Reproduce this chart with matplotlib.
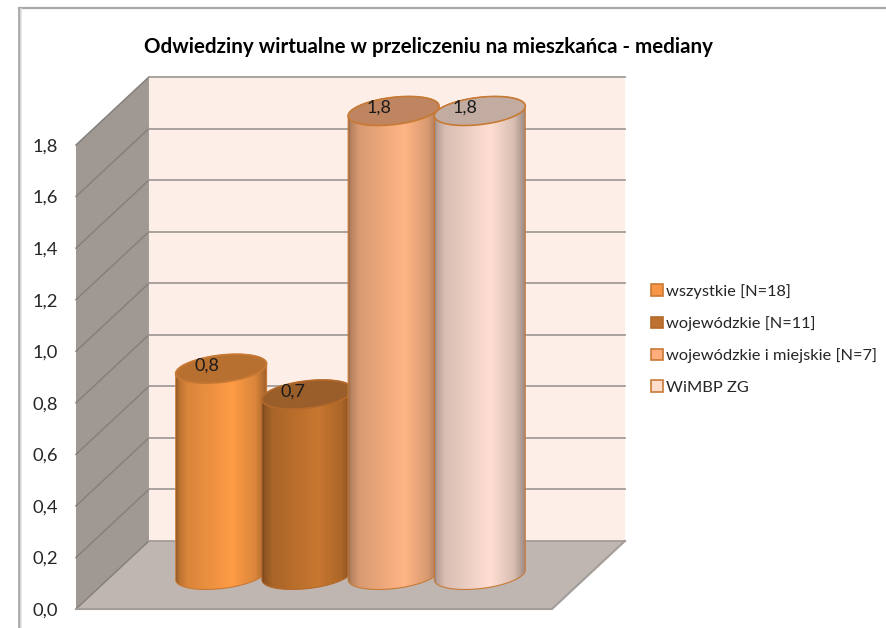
import numpy as np
import matplotlib
matplotlib.use("Agg")
import matplotlib.pyplot as plt
from matplotlib.patches import Polygon, Patch
from matplotlib.lines import Line2D
from matplotlib.colors import to_rgb

# data
title = "Odwiedziny wirtualne w przeliczeniu na mieszkańca - mediany"
series = ["wszystkie [N=18]", "wojewódzkie [N=11]", "wojewódzkie i miejskie [N=7]", "WiMBP ZG"]
values = [0.8, 0.7, 1.8, 1.8]
value_labels = ["0,8", "0,7", "1,8", "1,8"]
ticks = [0.0, 0.2, 0.4, 0.6, 0.8, 1.0, 1.2, 1.4, 1.6, 1.8]
tick_labels = ["0,0", "0,2", "0,4", "0,6", "0,8", "1,0", "1,2", "1,4", "1,6", "1,8"]

# colours
body_colors = ["#FF9C45", "#C8772F", "#FFB585", "#FFDFD2"]
top_colors = ["#B87031", "#9A5E2A", "#BF8560", "#C2ACA2"]
edge_colors = ["#C87A35", "#B5692A", "#C87A35", "#C87A35"]
swatch_colors = ["#F79646", "#BE7130", "#FFAD7C", "#FFDCCB"]

W, H = 887, 628
fig = plt.figure(figsize=(W / 100, H / 100), dpi=100)
plt.rcParams["font.family"] = ["Lato", "DejaVu Sans"]

# axes = the front plane of the 3d box
ax = fig.add_axes([76 / W, 1 - 609 / H, 476 / W, 464 / H])
ax.patch.set_visible(False)
x0, x1 = -1.26, 4.26
y0, y1 = 0, 1.8
dx, dy = 0.846, 0.264   # depth of the box
grid = "#A39D99"

ax.add_patch(Polygon([(x0 + dx, dy), (x1 + dx, dy), (x1 + dx, y1 + dy), (x0 + dx, y1 + dy)],
                     fc="#FDEEE7", ec="none", clip_on=False, zorder=1))
ax.add_patch(Polygon([(x0, 0), (x0 + dx, dy), (x0 + dx, y1 + dy), (x0, y1)],
                     fc="#A09893", ec="none", clip_on=False, zorder=1))
ax.add_patch(Polygon([(x0, 0), (x1, 0), (x1 + dx, dy), (x0 + dx, dy)],
                     fc="#BFB6B2", ec="none", clip_on=False, zorder=1))
for t in ticks:
    ax.plot([x0, x0 + dx], [t, t + dy], color="#86807B", lw=1.1, clip_on=False, zorder=2)
    ax.plot([x0 + dx, x1 + dx], [t + dy, t + dy], color=grid, lw=1.3, clip_on=False, zorder=2)
ax.plot([x0, x1, x1 + dx], [0, 0, dy], color=grid, lw=1.5, clip_on=False, zorder=2)

# cylinders
a, b, s = 0.527, 0.053, 0.019
th = np.linspace(0, np.pi, 60)
pos = [0.0, 1.0, 2.0, 3.0]
shade_x = [0, 0.03, 0.12, 0.35, 0.62, 0.88, 1]
shade_f = [0.55, 0.72, 0.85, 0.92, 1, 0.85, 0.62]
for i, v in enumerate(values):
    cx = pos[i] + dx / 2
    base = dy / 2
    top = v + dy / 2
    # upper half of the ellipse, lower half
    upx = cx + a * np.cos(th)
    upy = b * np.sin(th) + s * np.cos(th)
    lox = cx + a * np.cos(th + np.pi)
    loy = b * np.sin(th + np.pi) + s * np.cos(th + np.pi)
    body = list(zip(lox, loy + base)) + list(zip(upx, upy + top))
    poly = Polygon(body, fc="none", ec=edge_colors[i], lw=0.8, clip_on=False, zorder=10 + i * 2)
    ax.add_patch(poly)
    u = np.linspace(0, 1, 256)
    f = np.interp(u, shade_x, shade_f)
    img = np.outer(f, to_rgb(body_colors[i])).reshape(1, 256, 3)
    im = ax.imshow(img, extent=[cx - a, cx + a, base - 0.1, top + 0.1], aspect="auto",
                   zorder=10 + i * 2 - 0.5, interpolation="bilinear")
    im.set_clip_path(poly)
    im.set_clip_box(fig.bbox)
    lid = list(zip(upx, upy + top)) + list(zip(lox, loy + top))
    ax.add_patch(Polygon(lid, fc=top_colors[i], ec=edge_colors[i], lw=1.2, clip_on=False,
                         zorder=10 + i * 2 + 0.5))
    ax.text(pos[i] + dx / 2 - 0.17, top + 0.012, value_labels[i], ha="center", va="center",
            fontsize=13, color="#1A1A1A", zorder=30)

ax.set_xlim(x0, x1)
ax.set_ylim(y0, y1)
ax.set_xticks([])
ax.set_yticks(ticks)
ax.set_yticklabels(tick_labels, fontsize=13.2, color="#262626")
ax.tick_params(axis="y", length=0, pad=13)
for sp in ax.spines.values():
    sp.set_visible(False)

fig.text(429 / W, 1 - 47 / H, title, ha="center", va="center", fontsize=14.8, fontweight="bold",
         color="black")

handles = [Patch(fc=swatch_colors[i], ec=edge_colors[i], lw=1.2) for i in range(4)]
fig.legend(handles, series, loc="center left", bbox_to_anchor=(651 / W, 1 - 339.5 / H), frameon=False,
           fontsize=11.8, labelspacing=1.05, handlelength=0.72, handleheight=0.72, handletextpad=0.2,
           labelcolor="#262626", borderpad=0, borderaxespad=0)

# chart border
for xs, ys, c, lw in [([19, 19], [8, H], "#A8A8A8", 2), ([19, W], [8, 8], "#A8A8A8", 1.6),
                      ([21, 21], [9, H], "#E2E2E2", 1.2)]:
    fig.add_artist(Line2D([x / W for x in xs], [1 - y / H for y in ys], color=c, lw=lw))

fig.savefig("out.png", dpi=100)
